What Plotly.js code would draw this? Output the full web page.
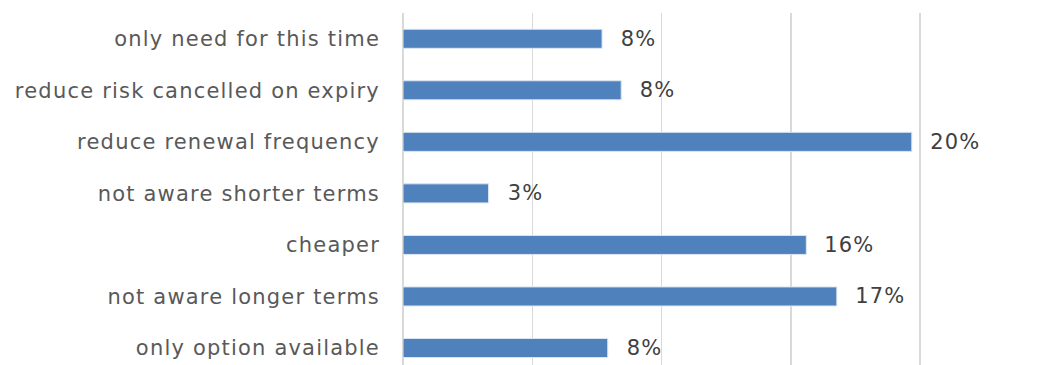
<!DOCTYPE html>
<html>
<head>
<meta charset="utf-8">
<script src="https://cdn.plot.ly/plotly-3.0.1.min.js"></script>
<style>
html,body{margin:0;padding:0;background:#fff;}
#chart{width:1039px;height:365px;}
#chart text{letter-spacing:1.2px;}
</style>
</head>
<body>
<div id="chart"></div>
<script>
const categories = [
  "only need for this time",
  "reduce risk cancelled on expiry",
  "reduce renewal frequency",
  "not aware shorter terms",
  "cheaper",
  "not aware longer terms",
  "only option available"
];
const values = [7.7, 8.44, 19.68, 3.31, 15.6, 16.78, 7.92];

const labelFont = {family: "DejaVu Sans, sans-serif", size: 21, color: "#595959"};

const trace = {
  type: "bar",
  orientation: "h",
  y: categories,
  x: values,
  marker: {color: "#4F81BD", line: {color: "#dce6f2", width: 1}},
  hoverinfo: "none"
};

const annotations = categories.map((c, i) => ({
  x: values[i], y: c, xref: "x", yref: "y",
  text: Math.round(values[i]) + "%",
  showarrow: false, xanchor: "left", xshift: 18,
  font: {family: "DejaVu Sans, sans-serif", size: 21, color: "#404040"}
}));

const layout = {
  width: 1039, height: 365,
  margin: {l: 403, r: 0, t: 13, b: 0, pad: 0},
  paper_bgcolor: "#fff", plot_bgcolor: "#fff",
  showlegend: false,
  bargap: 0.63,
  xaxis: {
    range: [0, 24.6], dtick: 5, tick0: 0,
    showgrid: true, gridcolor: "#d9d9d9", gridwidth: 1.5,
    zeroline: true, zerolinecolor: "#d9d9d9", zerolinewidth: 1.5,
    showticklabels: false, ticks: "", showline: false, fixedrange: true
  },
  yaxis: {
    type: "category",
    range: [6.33, -0.5],
    showgrid: false, zeroline: false, showline: false,
    ticks: "", ticklabelstandoff: 22,
    tickfont: labelFont, fixedrange: true
  },
  annotations: annotations
};

Plotly.newPlot("chart", [trace], layout, {displayModeBar: false, staticPlot: true});
</script>
</body>
</html>
